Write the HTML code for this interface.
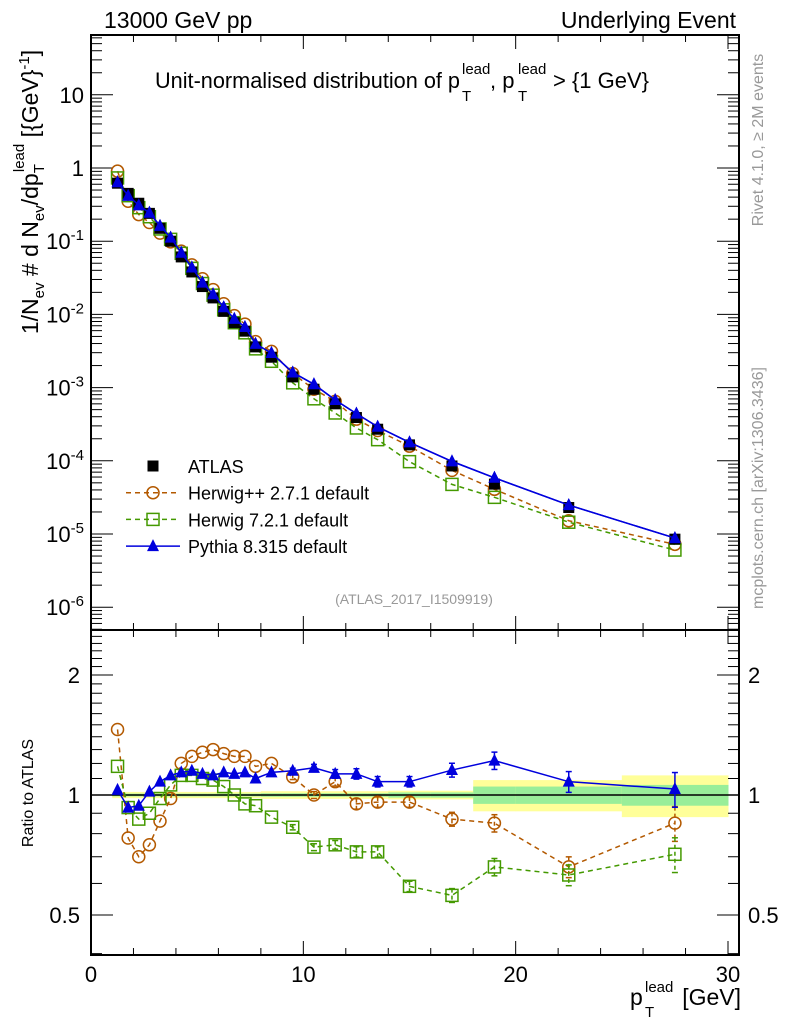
<!DOCTYPE html>
<html><head><meta charset="utf-8"><style>
html,body{margin:0;padding:0;background:#fff;}
svg{display:block;font-family:"Liberation Sans",sans-serif;}
</style></head><body>
<svg id="c" width="786" height="1024" xmlns="http://www.w3.org/2000/svg">
<text x="104" y="28" font-size="23">13000 GeV pp</text>
<text x="736" y="28" font-size="23" text-anchor="end">Underlying Event</text>
<g font-size="22">
<text x="155" y="88" textLength="305" lengthAdjust="spacingAndGlyphs">Unit-normalised distribution of p</text>
<text x="462" y="74" font-size="15">lead</text>
<text x="462" y="101" font-size="15">T</text>
<text x="490" y="88">, p</text>
<text x="518" y="74" font-size="15">lead</text>
<text x="518" y="101" font-size="15">T</text>
<text x="553" y="88">&gt; {1 GeV}</text>
</g>
<text x="414" y="604" font-size="14" fill="#999" text-anchor="middle">(ATLAS_2017_I1509919)</text>
<text transform="translate(38,192) rotate(-90)" font-size="23" text-anchor="middle">1/N<tspan font-size="15" dy="6">ev</tspan><tspan dy="-6"> # d N</tspan><tspan font-size="15" dy="6">ev</tspan><tspan dy="-6">/dp</tspan><tspan font-size="15" dy="6">T</tspan><tspan font-size="15" dx="-8" dy="-20">lead</tspan><tspan dy="14"> [{GeV}</tspan><tspan font-size="15" dy="-9">-1</tspan><tspan dy="9">]</tspan></text>
<text transform="translate(33,793) rotate(-90)" font-size="16" text-anchor="middle">Ratio to ATLAS</text>
<text transform="translate(763,140) rotate(-90)" font-size="16" fill="#999" text-anchor="middle">Rivet 4.1.0, ≥ 2M events</text>
<text transform="translate(763,488) rotate(-90)" font-size="16" fill="#999" text-anchor="middle">mcplots.cern.ch [arXiv:1306.3436]</text>
<g font-size="23">
<text x="630" y="1005">p</text>
<text x="645" y="992" font-size="15">lead</text>
<text x="645" y="1017" font-size="15">T</text>
<text x="741" y="1005" text-anchor="end">[GeV]</text>
</g>
</svg>
<script>
const binCenters=[1.25,1.75,2.25,2.75,3.25,3.75,4.25,4.75,5.25,5.75,6.25,6.75,7.25,7.75,8.5,9.5,10.5,11.5,12.5,13.5,15,17,19,22.5,27.5];
const binLo=[1,1.5,2,2.5,3,3.5,4,4.5,5,5.5,6,6.5,7,7.5,8,9,10,11,12,13,14,16,18,20,25];
const binHi=[1.5,2,2.5,3,3.5,4,4.5,5,5.5,6,6.5,7,7.5,8,9,10,11,12,13,14,16,18,20,25,30];
const atlasVals=[0.62,0.45,0.33,0.24,0.15,0.10,0.061,0.038,0.024,0.0168,0.011,0.0077,0.0059,0.0036,0.0026,0.0014,0.00095,0.0006,0.00039,0.00027,0.000165,0.000085,0.000048,0.000023,0.0000085];
const atlasRelErr=[0.008,0.008,0.008,0.008,0.008,0.008,0.008,0.008,0.008,0.008,0.008,0.008,0.008,0.008,0.01,0.01,0.01,0.01,0.01,0.01,0.015,0.015,0.05,0.05,0.06];
const atlasRelErrTot=[0.018,0.018,0.018,0.018,0.018,0.018,0.018,0.018,0.018,0.018,0.018,0.018,0.018,0.018,0.022,0.022,0.022,0.022,0.022,0.022,0.025,0.025,0.09,0.09,0.12];
const herwigppRatio=[1.46,0.78,0.70,0.75,0.86,0.98,1.20,1.25,1.28,1.30,1.27,1.25,1.25,1.18,1.20,1.11,1.00,1.08,0.95,0.96,0.96,0.87,0.85,0.66,0.85];
const herwig7Ratio=[1.18,0.93,0.87,0.90,0.98,1.06,1.12,1.12,1.10,1.09,1.05,1.00,0.95,0.94,0.88,0.83,0.74,0.75,0.72,0.72,0.59,0.56,0.66,0.63,0.71];
const pythiaRatio=[1.03,0.93,0.94,1.02,1.08,1.12,1.14,1.15,1.13,1.12,1.14,1.13,1.14,1.10,1.14,1.15,1.17,1.13,1.13,1.08,1.08,1.155,1.22,1.08,1.035];
const mcRelErr=[0.01,0.01,0.01,0.01,0.01,0.01,0.01,0.01,0.01,0.01,0.01,0.01,0.01,0.01,0.01,0.015,0.02,0.025,0.03,0.03,0.03,0.04,0.05,0.06,0.1];
const mainTicks=[10,1,0.1,0.01,0.001,0.0001,0.00001,0.000001];
const mainTickBase=["10","1","10","10","10","10","10","10"];
const mainTickExp=["","","-1","-2","-3","-4","-5","-6"];
const xTicks=[0,10,20,30];
const ratioTicks=[2,1,0.5];
const ratioTickLabels=["2","1","0.5"];

const NS="http://www.w3.org/2000/svg";
const svg=document.getElementById('c');
const L=91,R=739,T=35,MB=630,B=955;
const X=v=>L+v*(728-91)/30;
const Ym=v=>168-Math.log10(v)*73.2;
const Yr=v=>795-Math.log2(v)*120;
function el(tag,attrs,parent){const e=document.createElementNS(NS,tag);for(const k in attrs)e.setAttribute(k,attrs[k]);(parent||svg).appendChild(e);return e;}
function txt(x,y,s,size,anchor,fill,parent){const e=el('text',{x:x,y:y,'font-size':size,'text-anchor':anchor||'start',fill:fill||'#000'},parent);e.textContent=s;return e;}

const bandG=el('g',{});


binCenters.forEach((c,i)=>{
  const y1=Yr(1+atlasRelErrTot[i]),y2=Yr(1-atlasRelErrTot[i]);
  const r=el('rect',{x:X(binLo[i]),y:y1,width:X(binHi[i])-X(binLo[i])+0.5,height:y2-y1,fill:'#ffff99'},bandG);
  
  
  const g1=Yr(1+atlasRelErr[i]),g2=Yr(1-atlasRelErr[i]);
  const r2=el('rect',{x:X(binLo[i]),y:g1,width:X(binHi[i])-X(binLo[i])+0.5,height:g2-g1,fill:'#99ee99'},bandG);
  
  
});
el('line',{x1:L,x2:R,y1:Yr(1),y2:Yr(1),stroke:'#000','stroke-width':1.5});

[[T,MB],[MB,B]].forEach(([a,b],k)=>{
  const f=el('rect',{x:L,y:a,width:R-L,height:b-a,fill:'none',stroke:'#000','stroke-width':2});
  
  
  for(let v=0;v<=30;v++){if(v%2&&v%10)continue;const len=v%10==0?14:7;const x=X(v);
    el('line',{x1:x,x2:x,y1:b,y2:b-len,stroke:'#000','stroke-width':1});
    el('line',{x1:x,x2:x,y1:a,y2:a+len,stroke:'#000','stroke-width':1});}
});
for(let d=-7;d<=1;d++){for(let m=1;m<10;m++){const v=m*Math.pow(10,d);const y=Ym(v);if(y<T||y>MB)continue;const len=m==1?22:11;
  el('line',{x1:L,x2:L+len,y1:y,y2:y,stroke:'#000'});el('line',{x1:R,x2:R-len,y1:y,y2:y,stroke:'#000'});}}
mainTicks.forEach((v,i)=>{const y=Ym(v)+8;
  const t=el('text',{x:84,y:y,'font-size':22,'text-anchor':'end'});
  
  
  const a=el('tspan',{},t);a.textContent=mainTickBase[i];
  if(mainTickExp[i]){const b=el('tspan',{'font-size':15,dy:-9},t);b.textContent=mainTickExp[i];}
});
for(let v=0.4;v<=2.6;v=Math.round((v+0.1)*10)/10){const y=Yr(v);if(y<MB||y>B)continue;const maj=ratioTicks.includes(v);const len=maj?22:11;
  el('line',{x1:L,x2:L+len,y1:y,y2:y,stroke:'#000'});el('line',{x1:R,x2:R-len,y1:y,y2:y,stroke:'#000'});}
ratioTicks.forEach((v,i)=>{const y=Yr(v)+8;txt(80,y,ratioTickLabels[i],22,'end');txt(748,y,ratioTickLabels[i],22,'start');});
xTicks.forEach(v=>{const t=txt(X(v),982,String(v),22,'middle');});

const series=[
 {name:'herwigpp',r:herwigppRatio,col:'#b35900',dash:'5,4',mk:'circle'},
 {name:'herwig7',r:herwig7Ratio,col:'#449900',dash:'5,4',mk:'square'},
 {name:'pythia',r:pythiaRatio,col:'#0000dd',dash:'',mk:'tri'}];
function marker(g,mk,x,y,col,s){
  if(mk=='circle')return el('circle',{cx:x,cy:y,r:s,fill:'none',stroke:col,'stroke-width':1.5},g);
  if(mk=='square')return el('rect',{x:x-s,y:y-s,width:2*s,height:2*s,fill:'none',stroke:col,'stroke-width':1.5},g);
  if(mk=='tri')return el('polygon',{points:`${x},${y-s-1} ${x-s},${y+s-1} ${x+s},${y+s-1}`,fill:col},g);
  return el('rect',{x:x-s,y:y-s,width:2*s,height:2*s,fill:col},g);
}
series.forEach(s=>{
  ['main','ratio'].forEach(p=>{
    const g=el('g',{});
    
    
    const pts=binCenters.map((c,i)=>[X(c),p=='main'?Ym(atlasVals[i]*s.r[i]):Yr(s.r[i])]);
    el('polyline',{points:pts.map(q=>q.join(',')).join(' '),fill:'none',stroke:s.col,'stroke-width':1.5,'stroke-dasharray':s.dash},g);
    if(p=='ratio')binCenters.forEach((c,i)=>{const e=mcRelErr[i];if(e<0.015)return;const x=X(c),y1=Yr(s.r[i]*(1+e)),y2=Yr(s.r[i]*(1-e));
      el('line',{x1:x,x2:x,y1:y1,y2:y2,stroke:s.col,'stroke-width':1.5,'stroke-dasharray':s.dash?'4,3':''},g);
      el('line',{x1:x-3,x2:x+3,y1:y1,y2:y1,stroke:s.col,'stroke-width':1.5},g);el('line',{x1:x-3,x2:x+3,y1:y2,y2:y2,stroke:s.col,'stroke-width':1.5},g);});
    pts.forEach(q=>{const m=marker(g,s.mk,q[0],q[1],s.col,6);});
  });
});
const ag=el('g',{});


binCenters.forEach((c,i)=>{const m=marker(ag,'fill',X(c),Ym(atlasVals[i]),'#000',5.5);});
series.slice(2).forEach(s=>{const g=el('g',{});
  
  
  const pts=binCenters.map((c,i)=>[X(c),Ym(atlasVals[i]*s.r[i])]);
  el('polyline',{points:pts.map(q=>q.join(',')).join(' '),fill:'none',stroke:s.col,'stroke-width':1.5},g);
  pts.forEach(q=>marker(g,'tri',q[0],q[1],s.col,6));});

const lg=el('g',{});


const legItems=[['ATLAS','fill','#000',''],['Herwig++ 2.7.1 default','circle','#b35900','5,4'],['Herwig 7.2.1 default','square','#449900','5,4'],['Pythia 8.315 default','tri','#0000dd','']];
legItems.forEach((it,i)=>{const y=466+i*26.7;
  if(i>0)el('line',{x1:126,x2:180,y1:y,y2:y,stroke:it[2],'stroke-width':1.5,'stroke-dasharray':it[3]},lg);
  marker(lg,it[1],153,y,it[2],it[1]=='fill'?5.5:6);
  const t=txt(188,y+7,it[0],18,'start','#000',lg);
  
  });
</script>
</body></html>
